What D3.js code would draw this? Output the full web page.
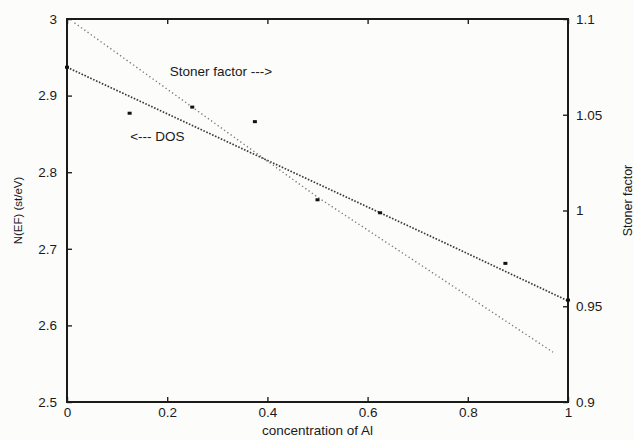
<!DOCTYPE html>
<html>
<head>
<meta charset="utf-8">
<script src="https://cdn.jsdelivr.net/npm/d3@7"></script>
<style>
  html, body { margin: 0; padding: 0; background: #fcfcfa; }
  svg { display: block; }
  text { font-family: "Liberation Sans", Arial, sans-serif; fill: #1a1a1a; }
</style>
</head>
<body>
<svg id="chart" width="634" height="440"></svg>
<script>
// ---- data ----
const xTicks = [0, 0.2, 0.4, 0.6, 0.8, 1];
const xTickLabels = ["0", "0.2", "0.4", "0.6", "0.8", "1"];
const leftTicks = [2.5, 2.6, 2.7, 2.8, 2.9, 3];
const leftTickLabels = ["2.5", "2.6", "2.7", "2.8", "2.9", "3"];
const rightTicks = [0.9, 0.95, 1, 1.05, 1.1];
const rightTickLabels = ["0.9", "0.95", "1", "1.05", "1.1"];

// DOS fit line (left axis)
const dosX = [0, 0.25, 0.5, 0.75, 1];
const dosN = [2.937, 2.861, 2.785, 2.709, 2.632];
// Stoner factor fit line (right axis)
const stonerX = [0.015, 0.25, 0.5, 0.75, 0.97];
const stonerS = [1.098, 1.054, 1.007, 0.964, 0.926];
// calculated points (left axis)
const pointX = [0, 0.125, 0.25, 0.375, 0.5, 0.625, 0.875, 1];
const pointN = [2.937, 2.877, 2.885, 2.866, 2.764, 2.747, 2.681, 2.633];

const xLabel = "concentration of Al";
const yLeftLabel = "N(EF) (st/eV)";
const yRightLabel = "Stoner factor";
const annStoner = "Stoner factor --->";
const annDos = "<--- DOS";

// ---- layout ----
const svg = d3.select("#chart");
const L = 67, R = 568, T = 19, B = 402;

const x = d3.scaleLinear().domain([0, 1]).range([L, R]);
const yL = d3.scaleLinear().domain([2.5, 3]).range([B, T]);
const yR = d3.scaleLinear().domain([0.9, 1.1]).range([B, T]);

const tickFont = "13.5px";

// axes
const axB = svg.append("g").attr("transform", `translate(0,${B})`)
  .call(d3.axisBottom(x).tickValues(xTicks).tickFormat((d, i) => xTickLabels[i]).tickSize(-5).tickPadding(5));
const axT = svg.append("g").attr("transform", `translate(0,${T})`)
  .call(d3.axisTop(x).tickValues(xTicks).tickFormat("").tickSize(-5));
const axL = svg.append("g").attr("transform", `translate(${L},0)`)
  .call(d3.axisLeft(yL).tickValues(leftTicks).tickFormat((d, i) => leftTickLabels[i]).tickSize(-5).tickPadding(10));
const axR = svg.append("g").attr("transform", `translate(${R},0)`)
  .call(d3.axisRight(yR).tickValues(rightTicks).tickFormat((d, i) => rightTickLabels[i]).tickSize(-5).tickPadding(8));

[axB, axT, axL, axR].forEach(g => {
  g.select(".domain").remove();
  g.selectAll(".tick line").attr("stroke", "#222").attr("stroke-width", 1.4);
  g.selectAll(".tick text").attr("font-size", tickFont).attr("font-family", "Liberation Sans, Arial, sans-serif").attr("fill", "#1a1a1a");
});

// frame
svg.append("rect").attr("x", L).attr("y", T).attr("width", R - L).attr("height", B - T)
  .attr("fill", "none").attr("stroke", "#1a1a1a").attr("stroke-width", 2);

// lines
const lineL = d3.line().x(d => x(d[0])).y(d => yL(d[1]));
const lineR = d3.line().x(d => x(d[0])).y(d => yR(d[1]));

svg.append("path").datum(dosX.map((v, i) => [v, dosN[i]]))
  .attr("d", lineL).attr("fill", "none").attr("stroke", "#3a3a3a")
  .attr("stroke-width", 1.7).attr("stroke-dasharray", "1.6,1.6");

svg.append("path").datum(stonerX.map((v, i) => [v, stonerS[i]]))
  .attr("d", lineR).attr("fill", "none").attr("stroke", "#7a7a7a")
  .attr("stroke-width", 1.4).attr("stroke-dasharray", "1.3,2.7");

// points
svg.append("g").selectAll("rect").data(pointX.map((v, i) => [v, pointN[i]])).join("rect")
  .attr("x", d => x(d[0]) - 2).attr("y", d => yL(d[1]) - 1.5)
  .attr("width", 4).attr("height", 3).attr("fill", "#111");

// annotations
svg.append("text").attr("x", x(0.205)).attr("y", yL(2.925)).attr("font-size", "13.5px").text(annStoner);
svg.append("text").attr("x", x(0.126)).attr("y", yL(2.841)).attr("font-size", "13.5px").text(annDos);

// axis titles
svg.append("text").attr("x", (L + R) / 2).attr("y", 435).attr("text-anchor", "middle")
  .attr("font-size", "13.5px").text(xLabel);
svg.append("text").attr("transform", `translate(22,${(T + B) / 2}) rotate(-90)`)
  .attr("text-anchor", "middle").attr("font-size", "11.5px").text(yLeftLabel);
svg.append("text").attr("transform", `translate(632,${(T + B) / 2 - 10}) rotate(-90)`)
  .attr("text-anchor", "middle").attr("font-size", "12.5px").text(yRightLabel);
</script>
</body>
</html>
